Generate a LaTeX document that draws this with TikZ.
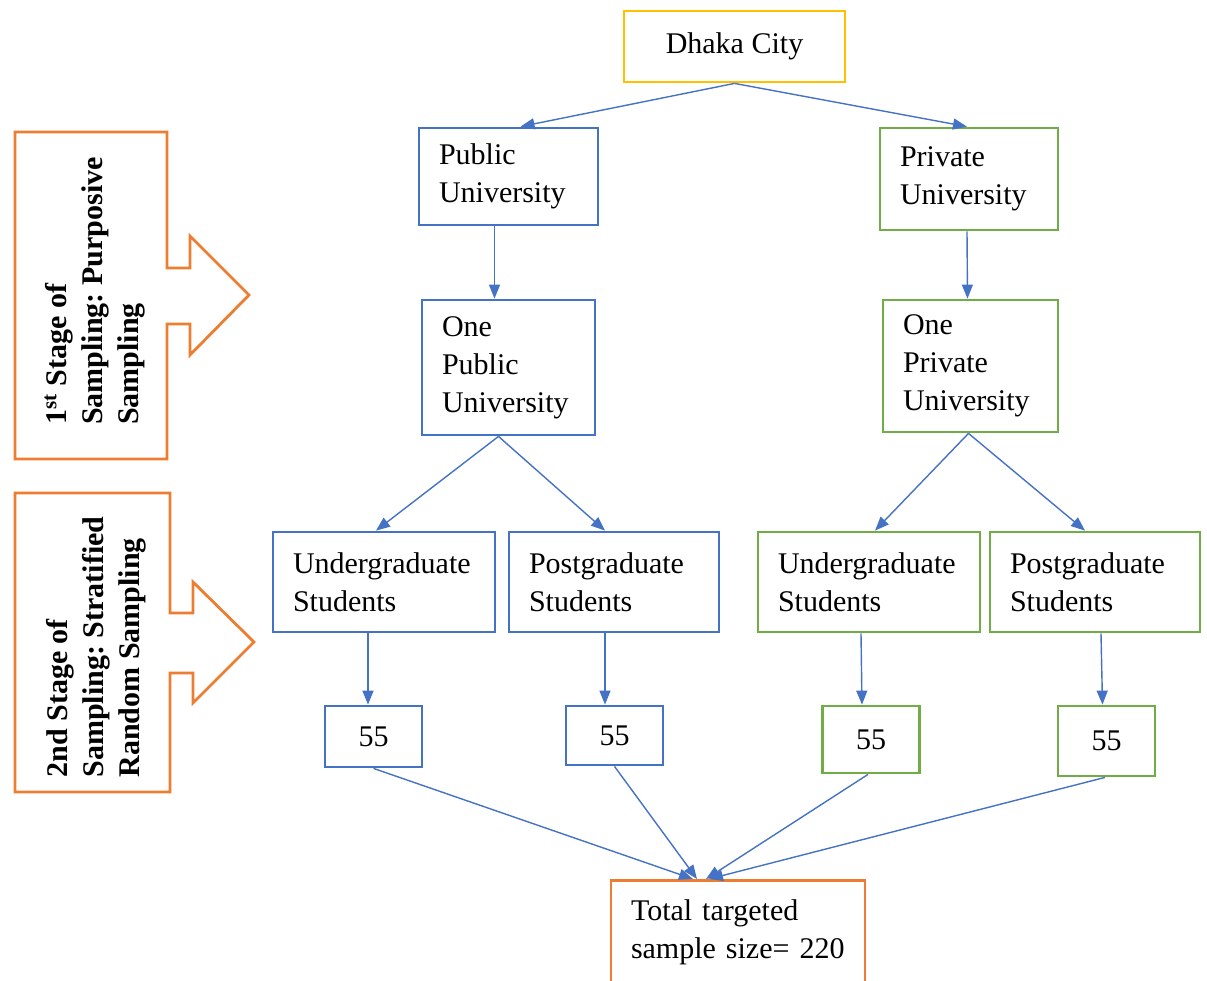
\documentclass[tikz,border=0pt]{standalone}
\usepackage{fontspec}
\setmainfont{Liberation Serif}
\frenchspacing
\usepackage{tikz}
\usetikzlibrary{arrows.meta}

\definecolor{pubblue}{HTML}{4472C4}
\definecolor{prigreen}{HTML}{70AD47}
\definecolor{stageorange}{HTML}{ED7D31}
\definecolor{cityyellow}{HTML}{FFC000}

\tikzset{
    unibox/.style={draw, line width=1.4pt, align=left, inner xsep=10pt,
        font=\fontsize{15}{19}\selectfont},
    pubbox/.style={unibox, draw=pubblue},
    pribox/.style={unibox, draw=prigreen},
    numbox/.style={draw, line width=1.4pt, minimum width=48.5pt,
        font=\fontsize{15}{19}\selectfont},
    link/.style={pubblue, line width=0.7pt, -{Triangle[length=7pt,width=5.5pt]}},
    stagetext/.style={rotate=90, align=left, font=\bfseries\fontsize{15}{18}\selectfont},
    stagearrow/.style={draw=stageorange, line width=1.4pt, line join=miter}
}

\begin{document}
\begin{tikzpicture}[x=0.5pt, y=-0.5pt]
                \useasboundingbox (0,0) rectangle (1207,981);
                \clip (0,0) rectangle (1207,981);
                %stage callouts
                \draw[stagearrow] (167,268) -- (167,132) -- (15,132) -- (15,459) -- (167,459)
                    -- (167,324) -- (190,324) -- (190,355) -- (249,295) -- (190,236) -- (190,268) -- cycle;
                \draw[stagearrow] (170,613) -- (170,493) -- (15,493) -- (15,792) -- (170,792)
                    -- (170,673) -- (193,673) -- (193,703) -- (254,642) -- (193,582) -- (193,613) -- cycle;
                \node[stagetext] (stage1) at (95,291) {1\textsuperscript{st} Stage of\\Sampling: Purposive\\Sampling};
                \node[stagetext] (stage2) at (96,647) {2nd Stage of\\Sampling: Stratified\\Random Sampling};
                %boxes
                \node[unibox, draw=cityyellow, align=center, minimum width=110.5pt, minimum height=35.5pt]
                    (dhaka) at (734.5,46.5) {\raisebox{2pt}{Dhaka City}};
                \node[pubbox, text width=69.5pt, minimum height=48.5pt] (pubuni) at (508.5,176.5) {Public\\University};
                \node[pribox, text width=69pt, minimum height=51pt] (priuni) at (969,179) {Private\\University};
                \node[pubbox, text width=66.5pt, minimum height=67.5pt] (onepub) at (508.5,367.5) {One\\Public\\University};
                \node[pribox, text width=67.5pt, minimum height=66pt] (onepri) at (970.5,366) {One\\Private\\University};
                \node[pubbox, text width=91pt, minimum height=50pt] (ugpub) at (384,582) {Undergraduate\\Students};
                \node[pubbox, text width=85pt, minimum height=50pt] (pgpub) at (614,582) {Postgraduate\\Students};
                \node[pribox, text width=91pt, minimum height=50pt] (ugpri) at (869,582) {Undergraduate\\Students};
                \node[pribox, text width=85pt, minimum height=50pt] (pgpri) at (1095,582) {Postgraduate\\Students};
                \node[numbox, draw=pubblue, minimum height=30.5pt] (nugpub) at (373.5,736.5) {55};
                \node[numbox, draw=pubblue, minimum height=29.5pt] (npgpub) at (614.5,735.5) {55};
                \node[numbox, draw=prigreen, minimum height=33.5pt] (nugpri) at (871,739.5) {55};
                \node[numbox, draw=prigreen, minimum height=35pt] (npgpri) at (1106.5,741) {55};
                \node[unibox, draw=stageorange, anchor=north, text width=107pt, inner ysep=9.5pt, text depth=40pt]
                    (total) at (738,879) {Total targeted\\sample size= 220};
                %connectors
                \draw[link] (dhaka.south) -- ([xshift=6pt]pubuni.north);
                \draw[link] (dhaka.south) -- ([xshift=-1pt]priuni.north);
                \draw[link] ([xshift=-7pt]pubuni.south) -- ([xshift=-7pt]onepub.north);
                \draw[link] ([xshift=-1pt]priuni.south) -- ([xshift=-1.5pt]onepri.north);
                \draw[link] ([xshift=-5pt]onepub.south) -- ([xshift=-4pt]ugpub.north);
                \draw[link] ([xshift=-5pt]onepub.south) -- ([xshift=-4.5pt]pgpub.north);
                \draw[link] ([xshift=-1pt]onepri.south) -- ([xshift=3pt]ugpri.north);
                \draw[link] ([xshift=-1pt]onepri.south) -- ([xshift=-5pt]pgpri.north);
                \draw[link] ([xshift=-8pt]ugpub.south) -- ([xshift=-2.75pt]nugpub.north);
                \draw[link] ([xshift=-4.5pt]pgpub.south) -- ([xshift=-4.75pt]npgpub.north);
                \draw[link] ([xshift=-4pt]ugpri.south) -- ([xshift=-4.5pt]nugpri.north);
                \draw[link] ([xshift=3pt]pgpri.south) -- ([xshift=-2pt]npgpri.north);
                \draw[link] (nugpub.south) -- ([xshift=-22.5pt]total.north);
                \draw[link] (npgpub.south) -- ([xshift=-20.5pt]total.north);
                \draw[link] ([xshift=-1.5pt]nugpri.south) -- ([xshift=-16pt]total.north);
                \draw[link] ([xshift=-0.75pt]npgpri.south) -- ([xshift=-14.5pt]total.north);
            \end{tikzpicture}
\end{document}
